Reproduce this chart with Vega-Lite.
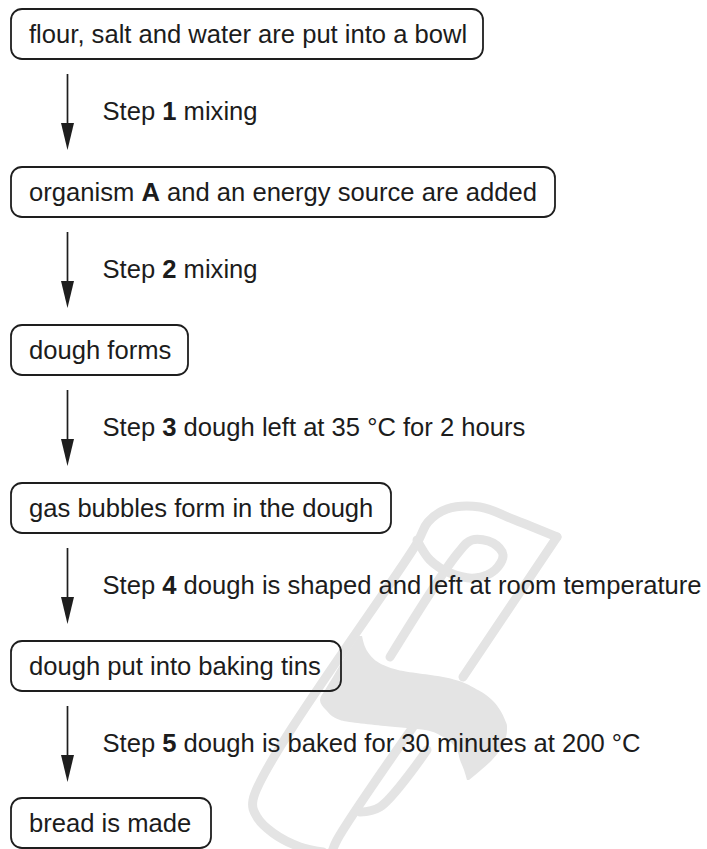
{
  "$schema": "https://vega.github.io/schema/vega-lite/v6.json",
  "width": 707,
  "height": 849,
  "padding": 0,
  "autosize": {"type": "none"},
  "background": "white",
  "config": {"view": {"stroke": null}},
  "datasets": {
    "wmLines": [
      {"p": "outer", "o": 1, "x": 557, "y": 537},
      {"p": "outer", "o": 2, "x": 515, "y": 520},
      {"p": "outer", "o": 3, "x": 480, "y": 507},
      {"p": "outer", "o": 4, "x": 447, "y": 509},
      {"p": "outer", "o": 5, "x": 428, "y": 522},
      {"p": "outer", "o": 6, "x": 417, "y": 543},
      {"p": "outer", "o": 7, "x": 253, "y": 800},
      {"p": "outer", "o": 8, "x": 257, "y": 817},
      {"p": "outer", "o": 9, "x": 273, "y": 833},
      {"p": "outer", "o": 10, "x": 300, "y": 847},
      {"p": "outer", "o": 11, "x": 323, "y": 852},
      {"p": "rightUp", "o": 1, "x": 557, "y": 537},
      {"p": "rightUp", "o": 2, "x": 463, "y": 677},
      {"p": "rightLow", "o": 1, "x": 413, "y": 727},
      {"p": "rightLow", "o": 2, "x": 337, "y": 840},
      {"p": "rightLow", "o": 3, "x": 332, "y": 852},
      {"p": "curl", "o": 1, "x": 417, "y": 540},
      {"p": "curl", "o": 2, "x": 430, "y": 560},
      {"p": "curl", "o": 3, "x": 450, "y": 573},
      {"p": "curl", "o": 4, "x": 475, "y": 578},
      {"p": "curl", "o": 5, "x": 495, "y": 570},
      {"p": "curl", "o": 6, "x": 503, "y": 555},
      {"p": "curl", "o": 7, "x": 493, "y": 543},
      {"p": "curl", "o": 8, "x": 472, "y": 540},
      {"p": "curl", "o": 9, "x": 458, "y": 553},
      {"p": "curl", "o": 10, "x": 390, "y": 657},
      {"p": "inner", "o": 1, "x": 427, "y": 750},
      {"p": "inner", "o": 2, "x": 380, "y": 807},
      {"p": "inner", "o": 3, "x": 360, "y": 812}
    ],
    "wmDrop": [
      {"y": 636, "xl": 359, "xr": 362},
      {"y": 655, "xl": 346, "xr": 370},
      {"y": 670, "xl": 337, "xr": 398},
      {"y": 677, "xl": 333, "xr": 443},
      {"y": 690, "xl": 325, "xr": 478},
      {"y": 700, "xl": 320, "xr": 492},
      {"y": 710, "xl": 326, "xr": 500},
      {"y": 720, "xl": 340, "xr": 505},
      {"y": 726, "xl": 385, "xr": 507},
      {"y": 730, "xl": 425, "xr": 507},
      {"y": 737, "xl": 443, "xr": 506},
      {"y": 750, "xl": 457, "xr": 500},
      {"y": 760, "xl": 460, "xr": 492},
      {"y": 770, "xl": 464, "xr": 481},
      {"y": 780, "xl": 467, "xr": 469}
    ],
    "boxes": [
      {"x": 11, "x2": 483, "y": 9, "y2": 59},
      {"x": 11, "x2": 555, "y": 167, "y2": 217},
      {"x": 11, "x2": 188, "y": 325, "y2": 375},
      {"x": 11, "x2": 391, "y": 483, "y2": 533},
      {"x": 11, "x2": 341, "y": 641, "y2": 691},
      {"x": 11, "x2": 211, "y": 798, "y2": 848}
    ],
    "texts": [
      {"t": "flour, salt and water are put into a bowl", "x": 29, "y": 43, "b": 0},
      {"t": "organism", "x": 29, "y": 201, "b": 0},
      {"t": "A", "x": 141.4, "y": 201, "b": 1},
      {"t": "and an energy source are added", "x": 167, "y": 201, "b": 0},
      {"t": "dough forms", "x": 29, "y": 359, "b": 0},
      {"t": "gas bubbles form in the dough", "x": 29, "y": 517, "b": 0},
      {"t": "dough put into baking tins", "x": 29, "y": 675, "b": 0},
      {"t": "bread is made", "x": 29, "y": 832, "b": 0},
      {"t": "Step", "x": 102.5, "y": 119.5, "b": 0},
      {"t": "1", "x": 162.3, "y": 119.5, "b": 1},
      {"t": "mixing", "x": 183.6, "y": 119.5, "b": 0},
      {"t": "Step", "x": 102.5, "y": 277.5, "b": 0},
      {"t": "2", "x": 162.3, "y": 277.5, "b": 1},
      {"t": "mixing", "x": 183.6, "y": 277.5, "b": 0},
      {"t": "Step", "x": 102.5, "y": 435.5, "b": 0},
      {"t": "3", "x": 162.3, "y": 435.5, "b": 1},
      {"t": "dough left at 35 °C for 2 hours", "x": 183.6, "y": 435.5, "b": 0},
      {"t": "Step", "x": 102.5, "y": 593.5, "b": 0},
      {"t": "4", "x": 162.3, "y": 593.5, "b": 1},
      {"t": "dough is shaped and left at room temperature", "x": 183.6, "y": 593.5, "b": 0},
      {"t": "Step", "x": 102.5, "y": 751.5, "b": 0},
      {"t": "5", "x": 162.3, "y": 751.5, "b": 1},
      {"t": "dough is baked for 30 minutes at 200 °C", "x": 183.6, "y": 751.5, "b": 0}
    ],
    "arrows": [
      {"x": 67.5, "y": 74, "y2": 127, "hy": 136.5},
      {"x": 67.5, "y": 232, "y2": 285, "hy": 294.5},
      {"x": 67.5, "y": 390, "y2": 443, "hy": 452.5},
      {"x": 67.5, "y": 548, "y2": 601, "hy": 610.5},
      {"x": 67.5, "y": 706, "y2": 759, "hy": 768.5}
    ]
  },
  "layer": [
    {
      "data": {"name": "wmDrop"},
      "mark": {"type": "area", "orient": "horizontal", "color": "#e4e4e4", "interpolate": "monotone"},
      "encoding": {
        "y": {"field": "y", "type": "quantitative", "scale": {"domain": [0, 849], "range": [0, 849], "nice": false, "zero": false}, "axis": null},
        "x": {"field": "xl", "type": "quantitative", "scale": {"domain": [0, 707], "range": [0, 707], "nice": false, "zero": false}, "axis": null},
        "x2": {"field": "xr"}
      }
    },
    {
      "data": {"name": "wmLines"},
      "mark": {"type": "line", "color": "#e4e4e4", "strokeWidth": 9, "strokeCap": "round", "strokeJoin": "round", "interpolate": "catmull-rom"},
      "encoding": {
        "x": {"field": "x", "type": "quantitative", "axis": null},
        "y": {"field": "y", "type": "quantitative", "axis": null},
        "detail": {"field": "p"},
        "order": {"field": "o", "type": "quantitative"}
      }
    },
    {
      "data": {"name": "boxes"},
      "mark": {"type": "rect", "filled": false, "stroke": "#1e1e1e", "strokeWidth": 1.8, "cornerRadius": 11},
      "encoding": {
        "x": {"field": "x", "type": "quantitative", "axis": null},
        "x2": {"field": "x2"},
        "y": {"field": "y", "type": "quantitative", "axis": null},
        "y2": {"field": "y2"}
      }
    },
    {
      "data": {"name": "arrows"},
      "mark": {"type": "rule", "color": "#1e1e1e", "strokeWidth": 1.7},
      "encoding": {
        "x": {"field": "x", "type": "quantitative", "axis": null},
        "y": {"field": "y", "type": "quantitative", "axis": null},
        "y2": {"field": "y2"}
      }
    },
    {
      "data": {"name": "arrows"},
      "mark": {"type": "point", "shape": "M-0.48,-1L0.48,-1L0,1Z", "filled": true, "size": 729, "color": "#1e1e1e", "opacity": 1, "strokeWidth": 0},
      "encoding": {
        "x": {"field": "x", "type": "quantitative", "axis": null},
        "y": {"field": "hy", "type": "quantitative", "axis": null}
      }
    },
    {
      "data": {"name": "texts"},
      "transform": [{"filter": "datum.b == 0"}],
      "mark": {"type": "text", "align": "left", "baseline": "alphabetic", "font": "Liberation Sans", "fontSize": 25.6, "color": "#1c1c1c"},
      "encoding": {
        "x": {"field": "x", "type": "quantitative", "axis": null},
        "y": {"field": "y", "type": "quantitative", "axis": null},
        "text": {"field": "t"}
      }
    },
    {
      "data": {"name": "texts"},
      "transform": [{"filter": "datum.b == 1"}],
      "mark": {"type": "text", "align": "left", "baseline": "alphabetic", "font": "Liberation Sans", "fontSize": 25.6, "fontWeight": "bold", "color": "#1c1c1c"},
      "encoding": {
        "x": {"field": "x", "type": "quantitative", "axis": null},
        "y": {"field": "y", "type": "quantitative", "axis": null},
        "text": {"field": "t"}
      }
    }
  ]
}
